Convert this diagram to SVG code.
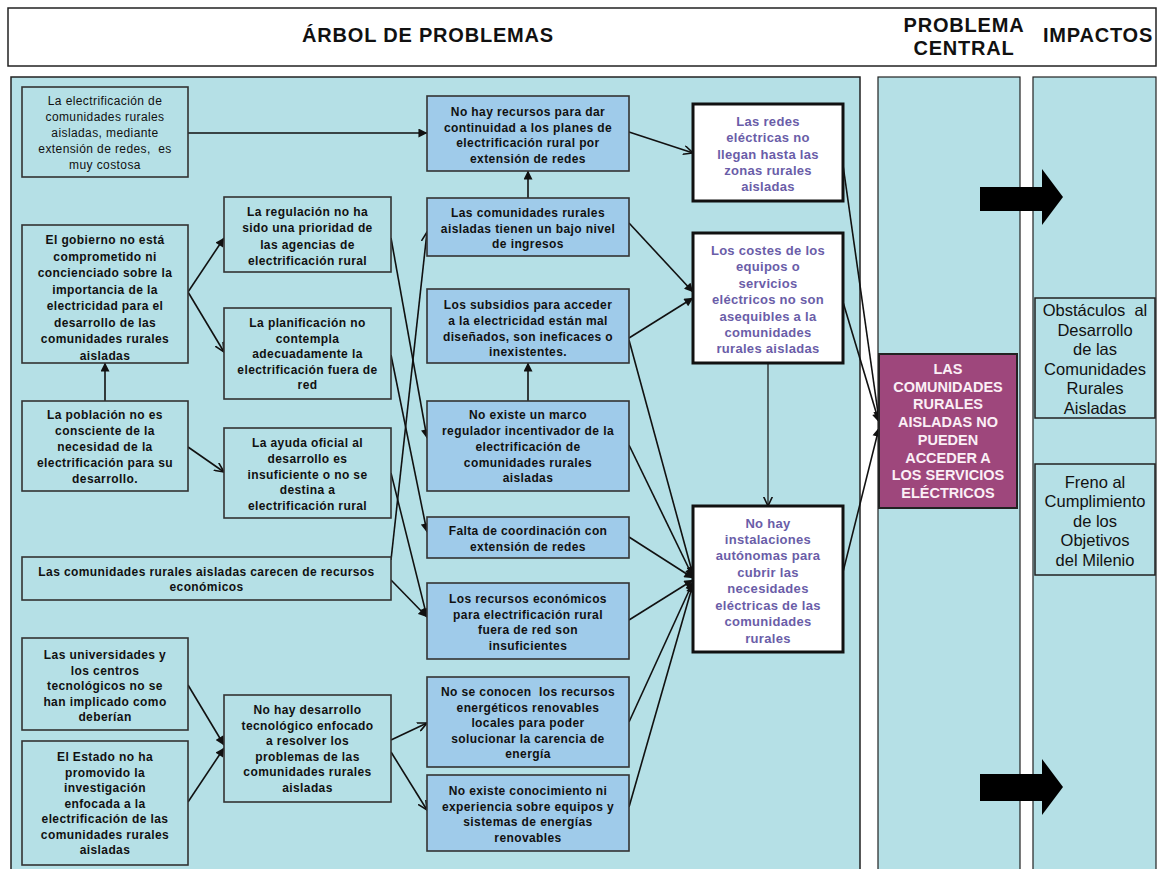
<svg xmlns="http://www.w3.org/2000/svg" width="1161" height="869" viewBox="0 0 1161 869">
<style>
.bg{fill:#fff}
.panel{fill:#B5E0E6;stroke:#222;stroke-width:1.5}
.cause{fill:#B5E0E6;stroke:#333;stroke-width:1.6}
.blue{fill:#9FCBEA;stroke:#333;stroke-width:1.6}
.white{fill:#fff;stroke:#111;stroke-width:3}
.central{fill:#9E477C;stroke:#222;stroke-width:2}
.imp{fill:#B5E0E6;stroke:#222;stroke-width:1.5}
text{font-family:"Liberation Sans",Arial,sans-serif;text-anchor:middle}
.h{font-size:20px;font-weight:bold;fill:#111;letter-spacing:0.8px}
.t{font-size:12px;font-weight:bold;fill:#111;letter-spacing:0.4px}
.r{font-size:12px;font-weight:normal;fill:#111;letter-spacing:0.4px}
.p{font-size:13px;font-weight:bold;fill:#6A5DA8;letter-spacing:0.3px}
.c{font-size:14.5px;font-weight:bold;fill:#FBEFF6}
.i{font-size:16.5px;font-weight:normal;fill:#111}
.ln{fill:none;stroke:#111;stroke-width:1.6}
.big{fill:#000}
</style>
<defs>
<marker id="f" viewBox="0 0 10 10" refX="9.5" refY="5" markerWidth="10" markerHeight="9" orient="auto" markerUnits="userSpaceOnUse"><path d="M0,0 L10,5 L0,10 z" fill="#111"/></marker>
<marker id="o" viewBox="0 0 10 10" refX="9.5" refY="5" markerWidth="10" markerHeight="10" orient="auto" markerUnits="userSpaceOnUse"><path d="M0,0.5 L9.5,5 L0,9.5" fill="none" stroke="#111" stroke-width="1.6"/></marker>
</defs>
<rect x="0" y="0" width="1161" height="869" class="bg"/>
<g id="header">
<rect x="8" y="8" width="1148" height="58" fill="#fff" stroke="#222" stroke-width="1.5"/>
<text class="h" x="428" y="42">ÁRBOL DE PROBLEMAS</text>
<text class="h" x="964" y="32">PROBLEMA</text>
<text class="h" x="964" y="55">CENTRAL</text>
<text class="h" x="1098" y="42">IMPACTOS</text>
</g>
<g id="panels">
<rect class="panel" x="11" y="77" width="849" height="800"/>
<rect class="panel" x="878" y="77" width="142" height="800" style="stroke-width:1.2"/>
<rect class="panel" x="1033" y="77" width="123" height="800" style="stroke-width:1.2"/>
</g>
<g id="connectors">
<line class="ln" x1="188" y1="133" x2="427" y2="133" marker-end="url(#f)"/>
<line class="ln" x1="528" y1="198" x2="528" y2="171" marker-end="url(#f)"/>
<line class="ln" x1="528" y1="401" x2="528" y2="363" marker-end="url(#f)"/>
<line class="ln" x1="105" y1="401" x2="105" y2="363" marker-end="url(#f)"/>
<line class="ln" x1="188" y1="292" x2="224" y2="238" marker-end="url(#f)"/>
<line class="ln" x1="188" y1="292" x2="224" y2="352" marker-end="url(#o)"/>
<line class="ln" x1="188" y1="447" x2="224" y2="472" marker-end="url(#o)"/>
<line class="ln" x1="629" y1="132" x2="693" y2="153" marker-end="url(#o)"/>
<line class="ln" x1="629" y1="223" x2="693" y2="292" marker-end="url(#f)"/>
<line class="ln" x1="629" y1="338" x2="693" y2="298" marker-end="url(#f)"/>
<line class="ln" x1="768" y1="363" x2="768" y2="506" marker-end="url(#o)" style="stroke-width:1.2"/>
<line class="ln" x1="391" y1="238" x2="427" y2="438" marker-end="url(#f)"/>
<line class="ln" x1="391" y1="355" x2="427" y2="532" marker-end="url(#f)"/>
<line class="ln" x1="391" y1="560" x2="427" y2="232" marker-end="url(#o)"/>
<line class="ln" x1="391" y1="473" x2="427" y2="617" marker-end="url(#f)"/>
<line class="ln" x1="391" y1="580" x2="427" y2="617" marker-end="url(#f)"/>
<line class="ln" x1="188" y1="685" x2="224" y2="745" marker-end="url(#f)"/>
<line class="ln" x1="188" y1="802" x2="224" y2="748" marker-end="url(#f)"/>
<line class="ln" x1="391" y1="740" x2="427" y2="723" marker-end="url(#o)"/>
<line class="ln" x1="391" y1="752" x2="427" y2="810" marker-end="url(#o)"/>
<line class="ln" x1="629" y1="340" x2="693" y2="575" marker-end="url(#f)"/>
<line class="ln" x1="629" y1="445" x2="693" y2="577" marker-end="url(#f)"/>
<line class="ln" x1="629" y1="537" x2="693" y2="578" marker-end="url(#f)"/>
<line class="ln" x1="629" y1="620" x2="693" y2="580" marker-end="url(#f)"/>
<line class="ln" x1="629" y1="722" x2="693" y2="582" marker-end="url(#f)"/>
<line class="ln" x1="629" y1="807" x2="693" y2="584" marker-end="url(#f)"/>
<line class="ln" x1="843" y1="165" x2="879" y2="420" marker-end="url(#f)"/>
<line class="ln" x1="843" y1="302" x2="879" y2="422" marker-end="url(#f)"/>
<line class="ln" x1="843" y1="572" x2="879" y2="428" marker-end="url(#f)"/>
</g>
<g id="n-costosa">
<rect class="cause" x="22" y="87" width="166" height="90"/>
<text class="r" x="105" y="105">La electrificación de</text>
<text class="r" x="105" y="121">comunidades rurales</text>
<text class="r" x="105" y="137">aisladas, mediante</text>
<text class="r" x="105" y="153" xml:space="preserve">extensión de redes,  es</text>
<text class="r" x="105" y="169">muy costosa</text>
</g>
<g id="n-gobierno">
<rect class="cause" x="22" y="225" width="166" height="138"/>
<text class="t" x="105" y="244">El gobierno no está</text>
<text class="t" x="105" y="260.5">comprometido ni</text>
<text class="t" x="105" y="277">concienciado sobre la</text>
<text class="t" x="105" y="293.5">importancia de la</text>
<text class="t" x="105" y="310">electricidad para el</text>
<text class="t" x="105" y="326.5">desarrollo de las</text>
<text class="t" x="105" y="343">comunidades rurales</text>
<text class="t" x="105" y="359.5">aisladas</text>
</g>
<g id="n-poblacion">
<rect class="cause" x="22" y="401" width="166" height="90"/>
<text class="t" x="105" y="419">La población no es</text>
<text class="t" x="105" y="435">consciente de la</text>
<text class="t" x="105" y="451">necesidad de la</text>
<text class="t" x="105" y="467">electrificación para su</text>
<text class="t" x="105" y="483">desarrollo.</text>
</g>
<g id="n-regulacion">
<rect class="cause" x="224" y="197" width="167" height="75"/>
<text class="t" x="307.5" y="216">La regulación no ha</text>
<text class="t" x="307.5" y="232.3">sido una prioridad de</text>
<text class="t" x="307.5" y="248.6">las agencias de</text>
<text class="t" x="307.5" y="265">electrificación rural</text>
</g>
<g id="n-planificacion">
<rect class="cause" x="224" y="308" width="167" height="91"/>
<text class="t" x="307.5" y="327">La planificación no</text>
<text class="t" x="307.5" y="342.5">contempla</text>
<text class="t" x="307.5" y="358">adecuadamente la</text>
<text class="t" x="307.5" y="373.5">electrificación fuera de</text>
<text class="t" x="307.5" y="389">red</text>
</g>
<g id="n-ayuda">
<rect class="cause" x="224" y="428" width="167" height="90"/>
<text class="t" x="307.5" y="447">La ayuda oficial al</text>
<text class="t" x="307.5" y="463">desarrollo es</text>
<text class="t" x="307.5" y="478.5">insuficiente o no se</text>
<text class="t" x="307.5" y="494">destina a</text>
<text class="t" x="307.5" y="509.5">electrificación rural</text>
</g>
<g id="n-carecen">
<rect class="cause" x="22" y="557" width="369" height="43"/>
<text class="t" x="206.5" y="576">Las comunidades rurales aisladas carecen de recursos</text>
<text class="t" x="206.5" y="591">económicos</text>
</g>
<g id="n-universidades">
<rect class="cause" x="22" y="638" width="166" height="92"/>
<text class="t" x="105" y="659">Las universidades y</text>
<text class="t" x="105" y="675">los centros</text>
<text class="t" x="105" y="690">tecnológicos no se</text>
<text class="t" x="105" y="705.5">han implicado como</text>
<text class="t" x="105" y="721">deberían</text>
</g>
<g id="n-estado">
<rect class="cause" x="22" y="741" width="166" height="124"/>
<text class="t" x="105" y="761">El Estado no ha</text>
<text class="t" x="105" y="776.5">promovido la</text>
<text class="t" x="105" y="792">investigación</text>
<text class="t" x="105" y="807.5">enfocada a la</text>
<text class="t" x="105" y="823">electrificación de las</text>
<text class="t" x="105" y="838.5">comunidades rurales</text>
<text class="t" x="105" y="854">aisladas</text>
</g>
<g id="n-desarrollo-tec">
<rect class="cause" x="224" y="695" width="167" height="107"/>
<text class="t" x="307.5" y="714">No hay desarrollo</text>
<text class="t" x="307.5" y="729.5">tecnológico enfocado</text>
<text class="t" x="307.5" y="745">a resolver los</text>
<text class="t" x="307.5" y="760.5">problemas de las</text>
<text class="t" x="307.5" y="776">comunidades rurales</text>
<text class="t" x="307.5" y="791.5">aisladas</text>
</g>
<g id="n-no-recursos">
<rect class="blue" x="427" y="96" width="202" height="75"/>
<text class="t" x="528" y="116">No hay recursos para dar</text>
<text class="t" x="528" y="131.5">continuidad a los planes de</text>
<text class="t" x="528" y="147">electrificación rural por</text>
<text class="t" x="528" y="162.5">extensión de redes</text>
</g>
<g id="n-bajo-nivel">
<rect class="blue" x="427" y="198" width="202" height="58"/>
<text class="t" x="528" y="216.5">Las comunidades rurales</text>
<text class="t" x="528" y="232.5">aisladas tienen un bajo nivel</text>
<text class="t" x="528" y="248">de ingresos</text>
</g>
<g id="n-subsidios">
<rect class="blue" x="427" y="289" width="202" height="74"/>
<text class="t" x="528" y="309">Los subsidios para acceder</text>
<text class="t" x="528" y="324.5">a la electricidad están mal</text>
<text class="t" x="528" y="340.5">diseñados, son ineficaces o</text>
<text class="t" x="528" y="356">inexistentes.</text>
</g>
<g id="n-marco">
<rect class="blue" x="427" y="401" width="202" height="90"/>
<text class="t" x="528" y="419">No existe un marco</text>
<text class="t" x="528" y="435">regulador incentivador de la</text>
<text class="t" x="528" y="451">electrificación de</text>
<text class="t" x="528" y="466.5">comunidades rurales</text>
<text class="t" x="528" y="482">aisladas</text>
</g>
<g id="n-falta">
<rect class="blue" x="427" y="517" width="202" height="41"/>
<text class="t" x="528" y="535">Falta de coordinación con</text>
<text class="t" x="528" y="551">extensión de redes</text>
</g>
<g id="n-recursos-econ">
<rect class="blue" x="427" y="583" width="202" height="76"/>
<text class="t" x="528" y="603">Los recursos económicos</text>
<text class="t" x="528" y="618.5">para electrificación rural</text>
<text class="t" x="528" y="634">fuera de red son</text>
<text class="t" x="528" y="649.5">insuficientes</text>
</g>
<g id="n-no-se-conocen">
<rect class="blue" x="427" y="677" width="202" height="90"/>
<text class="t" x="528" y="696" xml:space="preserve">No se conocen  los recursos</text>
<text class="t" x="528" y="711.5">energéticos renovables</text>
<text class="t" x="528" y="727">locales para poder</text>
<text class="t" x="528" y="742.5">solucionar la carencia de</text>
<text class="t" x="528" y="758">energía</text>
</g>
<g id="n-conocimiento">
<rect class="blue" x="427" y="775" width="202" height="76"/>
<text class="t" x="528" y="795">No existe conocimiento ni</text>
<text class="t" x="528" y="810.5">experiencia sobre equipos y</text>
<text class="t" x="528" y="826">sistemas de energías</text>
<text class="t" x="528" y="841.5">renovables</text>
</g>
<g id="n-redes">
<rect class="white" x="693" y="104" width="150" height="97"/>
<text class="p" x="768" y="126">Las redes</text>
<text class="p" x="768" y="142">eléctricas no</text>
<text class="p" x="768" y="158.5">llegan hasta las</text>
<text class="p" x="768" y="174.5">zonas rurales</text>
<text class="p" x="768" y="190.5">aisladas</text>
</g>
<g id="n-costes">
<rect class="white" x="693" y="233" width="150" height="130"/>
<text class="p" x="768" y="254.5">Los costes de los</text>
<text class="p" x="768" y="271">equipos o</text>
<text class="p" x="768" y="287.5">servicios</text>
<text class="p" x="768" y="304">eléctricos no son</text>
<text class="p" x="768" y="320.5">asequibles a la</text>
<text class="p" x="768" y="336.5">comunidades</text>
<text class="p" x="768" y="352.5">rurales aisladas</text>
</g>
<g id="n-no-hay-instalaciones">
<rect class="white" x="693" y="506" width="150" height="146"/>
<text class="p" x="768" y="527.5">No hay</text>
<text class="p" x="768" y="543.5">instalaciones</text>
<text class="p" x="768" y="560">autónomas para</text>
<text class="p" x="768" y="576.5">cubrir las</text>
<text class="p" x="768" y="593">necesidades</text>
<text class="p" x="768" y="609.5">eléctricas de las</text>
<text class="p" x="768" y="626">comunidades</text>
<text class="p" x="768" y="642.5">rurales</text>
</g>
<g id="n-problema-central">
<rect class="central" x="879" y="354" width="138" height="154"/>
<text class="c" x="948" y="373.5">LAS</text>
<text class="c" x="948" y="391.5">COMUNIDADES</text>
<text class="c" x="948" y="409">RURALES</text>
<text class="c" x="948" y="427">AISLADAS NO</text>
<text class="c" x="948" y="444.5">PUEDEN</text>
<text class="c" x="948" y="462.5">ACCEDER A</text>
<text class="c" x="948" y="480">LOS SERVICIOS</text>
<text class="c" x="948" y="497.5">ELÉCTRICOS</text>
</g>
<g id="n-obstaculos">
<rect class="imp" x="1035" y="298" width="120" height="120"/>
<text class="i" x="1095" y="316" xml:space="preserve">Obstáculos  al</text>
<text class="i" x="1095" y="335.5">Desarrollo</text>
<text class="i" x="1095" y="355">de las</text>
<text class="i" x="1095" y="374.5">Comunidades</text>
<text class="i" x="1095" y="394">Rurales</text>
<text class="i" x="1095" y="413.5">Aisladas</text>
</g>
<g id="n-freno">
<rect class="imp" x="1035" y="464" width="120" height="111"/>
<text class="i" x="1095" y="488">Freno al</text>
<text class="i" x="1095" y="507">Cumplimiento</text>
<text class="i" x="1095" y="526.5">de los</text>
<text class="i" x="1095" y="546">Objetivos</text>
<text class="i" x="1095" y="565.5">del Milenio</text>
</g>
<g id="big-arrows">
<polygon class="big" points="980,187 1042,187 1042,169 1063,197 1042,225 1042,211 980,211"/>
<polygon class="big" points="980,774 1042,774 1042,759 1063,787 1042,815 1042,801 980,801"/>
</g>
</svg>
